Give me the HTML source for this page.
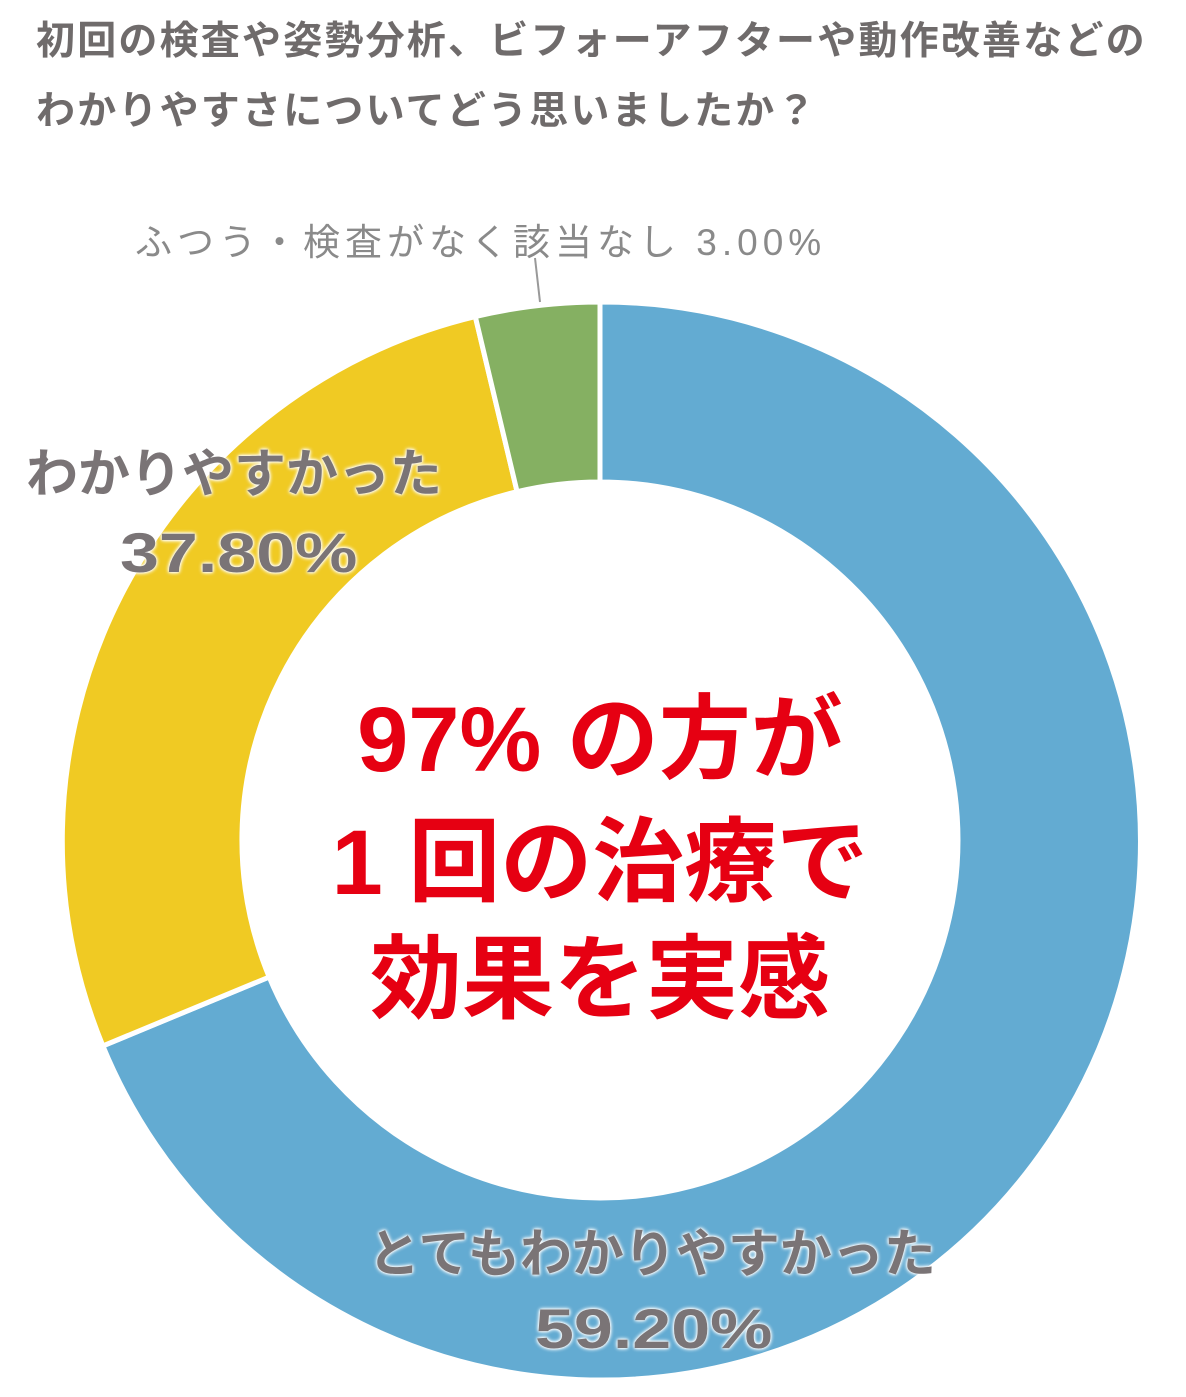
<!DOCTYPE html>
<html><head><meta charset="utf-8"><style>
html,body{margin:0;padding:0;background:#fff;}
body{width:1186px;height:1397px;position:relative;overflow:hidden;font-family:"Liberation Sans","Noto Sans CJK JP",sans-serif;}
.t{position:absolute;left:36px;font-weight:bold;color:#6f6b6b;font-size:39px;letter-spacing:2.2px;white-space:nowrap;}
.lab{position:absolute;white-space:nowrap;font-weight:bold;color:#7a7476;font-size:52px;text-shadow:0 0 4px #fff,0 0 4px #fff,0 0 2px #fff;}
.num{transform:scaleX(1.25);transform-origin:left center;font-size:56px;}
.c{position:absolute;left:0;width:1200px;text-align:center;font-weight:bold;color:#e60012;font-size:92px;white-space:nowrap;}
</style></head><body>
<div class="t" style="top:10px">初回の検査や姿勢分析、ビフォーアフターや動作改善などの</div>
<div class="t" style="top:80px">わかりやすさについてどう思いましたか？</div>
<svg width="1186" height="1397" style="position:absolute;left:0;top:0">
<path d="M600,302 A539,539 0 1 1 102.9,1045.9 L269.2,977 A358,358 0 1 0 600,482 Z" fill="#63abd2" stroke="#fff" stroke-width="5"/>
<path d="M102.9,1045.9 A539,539 0 0 1 475.3,316.6 L517.1,491.7 A358,358 0 0 0 269.2,977 Z" fill="#f0ca23" stroke="#fff" stroke-width="5"/>
<path d="M475.3,316.6 A539,539 0 0 1 600,302 L600,482 A358,358 0 0 0 517.1,491.7 Z" fill="#85b062" stroke="#fff" stroke-width="5"/>
<line x1="535" y1="258" x2="540" y2="302" stroke="#999" stroke-width="2"/>
</svg>
<div style="position:absolute;left:135px;top:212px;font-size:37px;letter-spacing:5px;color:#8a8a8a;white-space:nowrap;">ふつう・検査がなく該当なし 3.00%</div>
<div class="lab" style="left:26px;top:432px;">わかりやすかった</div>
<div class="lab num" style="left:120px;top:520px;">37.80%</div>
<div class="lab" style="left:368px;top:1212px;">とてもわかりやすかった</div>
<div class="lab num" style="left:535px;top:1296px;">59.20%</div>
<div class="c" style="top:665px;">97% の方が</div>
<div class="c" style="top:788px;">1 回の治療で</div>
<div class="c" style="top:905px;">効果を実感</div>
</body></html>
